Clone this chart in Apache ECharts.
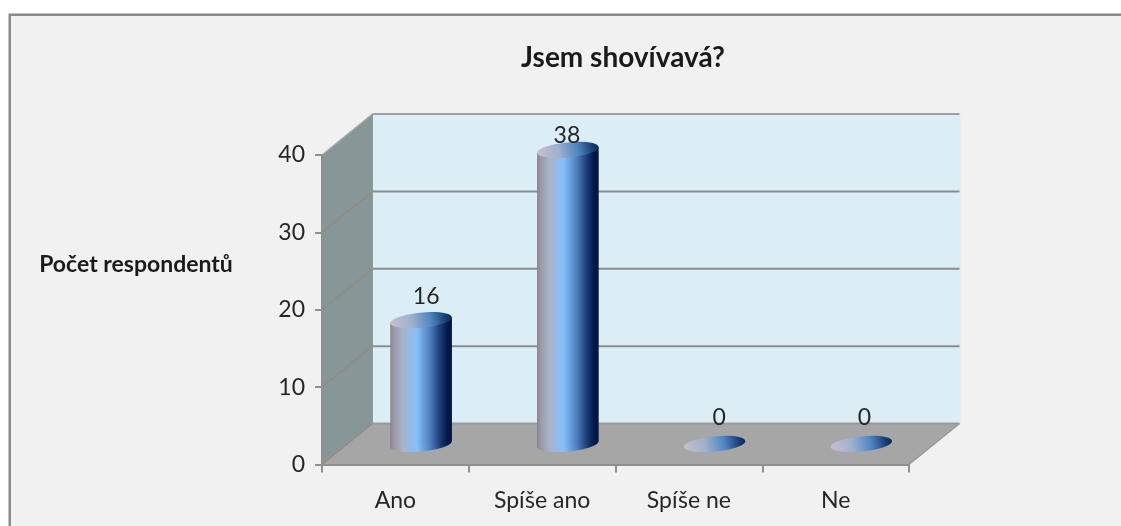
<!DOCTYPE html>
<html>
<head>
<meta charset="utf-8">
<style>html,body{margin:0;padding:0;background:#fff}#c{width:1121px;height:526px}</style>
<script src="https://cdn.jsdelivr.net/npm/echarts@6/dist/echarts.min.js"></script>
</head>
<body>
<div id="c"></div>
<script>
const categories = ['Ano', 'Spíše ano', 'Spíše ne', 'Ne'];
const values = [16, 38, 0, 0];
const yTicks = [0, 10, 20, 30, 40];
const titleText = 'Jsem shovívavá?';
const yAxisTitle = 'Počet respondentů';

const depthX = 50.5, depthY = 41;
const fontFamily = 'Lato, "Open Sans", sans-serif';
const textColor = '#262626';
const labelNudge = [[5, -24], [-1, -14], [4.5, -26], [3, -26]];

const chart = echarts.init(document.getElementById('c'), null, {renderer: 'canvas'});

const bodyGradient = new echarts.graphic.LinearGradient(0, 0, 1, 0, [
  {offset: 0, color: '#86808c'},
  {offset: 0.05, color: '#9a98a6'},
  {offset: 0.2, color: '#a9b3c8'},
  {offset: 0.43, color: '#86bffc'},
  {offset: 0.64, color: '#4f80c0'},
  {offset: 0.8, color: '#1d3f7a'},
  {offset: 0.93, color: '#001848'},
  {offset: 1, color: '#001848'}
]);
const capGradient = new echarts.graphic.LinearGradient(0, 0.7, 1, 0.3, [
  {offset: 0, color: '#c9bfcd'},
  {offset: 0.35, color: '#9fb0cc'},
  {offset: 0.65, color: '#4f86c2'},
  {offset: 0.9, color: '#153c74'},
  {offset: 1, color: '#0a2a5c'}
]);

function renderWalls(params, api) {
  const cs = params.coordSys;
  const l = cs.x, r = cs.x + cs.width, t = cs.y, b = cs.y + cs.height;
  const children = [
    {type: 'polygon', shape: {points: [[l, t], [l + depthX, t - depthY], [l + depthX, b - depthY], [l, b]]},
      style: {fill: '#879696'}},
    {type: 'rect', shape: {x: l + depthX, y: t - depthY, width: cs.width + 1, height: cs.height}, style: {fill: '#dceef5'}},
    {type: 'polygon', shape: {points: [[l, b], [l + depthX, b - depthY], [r + depthX, b - depthY], [r, b]]},
      style: {fill: '#a6a6a6'}}
  ];
  yTicks.forEach(function (v) {
    const y = api.coord([0, v])[1];
    const atTop = v === yTicks[yTicks.length - 1];
    children.push({type: 'line', shape: {x1: l, y1: y, x2: l + depthX, y2: y - depthY},
      style: {stroke: atTop ? '#a8a8a8' : '#938a84', lineWidth: 1.5}});
    children.push({type: 'line', shape: {x1: l + depthX, y1: y - depthY, x2: r + depthX, y2: y - depthY},
      style: {stroke: v === 0 ? '#999999' : (atTop ? '#a0a0a0' : '#8c8c8c'), lineWidth: 2}});
  });
  children.push({type: 'line', shape: {x1: l + depthX, y1: t - depthY, x2: l + depthX, y2: b - depthY},
    style: {stroke: '#8f9b9b', lineWidth: 1}});
  children.push({type: 'line', shape: {x1: r, y1: b, x2: r + depthX, y2: b - depthY},
    style: {stroke: '#999999', lineWidth: 1.5}});
  return {type: 'group', children: children};
}

function renderBar(params, api) {
  const idx = api.value(0), val = api.value(1);
  const top = api.coord([idx, val]);
  const base = api.coord([idx, 0]);
  const band = api.size([1, 0])[0];
  const cx = base[0] + depthX / 2 + 0.5;
  const baseY = base[1] - depthY / 2;
  const topY = top[1] - depthY / 2;
  const rx = band * 0.21, ry = 7.6, tilt = 3;
  const rot = Math.atan2(tilt, rx);
  const children = [];
  const ell = function (y, fill) {
    return {type: 'ellipse', shape: {cx: cx, cy: y, rx: rx, ry: ry},
      originX: cx, originY: y, rotation: rot, style: {fill: fill}};
  };
  if (val > 0) {
    children.push(ell(baseY, bodyGradient));
    children.push({type: 'polygon', shape: {points: [
      [cx - rx, topY + tilt], [cx + rx, topY - tilt], [cx + rx, baseY - tilt], [cx - rx, baseY + tilt]
    ]}, style: {fill: bodyGradient}});
  }
  children.push(ell(topY, capGradient));
  const n = labelNudge[idx];
  children.push({type: 'text', style: {
    text: String(val), x: cx + n[0], y: topY + n[1], align: 'center', verticalAlign: 'middle',
    font: '23px ' + fontFamily, fill: textColor
  }});
  return {type: 'group', children: children};
}

chart.setOption({
  animation: false,
  backgroundColor: '#ffffff',
  graphic: [{type: 'rect', z: -10, left: 8.5, top: 13.5, shape: {width: 1200, height: 600},
    style: {fill: '#f1f1f1', stroke: '#8a8a8a', lineWidth: 2.5}}],
  title: [
    {text: titleText, left: 618, top: 53, textAlign: 'center', textVerticalAlign: 'middle',
      textStyle: {fontFamily: fontFamily, fontSize: 28, fontWeight: 'bold', color: '#1a1a1a'}},
    {text: yAxisTitle, left: 131, top: 260, textAlign: 'center', textVerticalAlign: 'middle',
      textStyle: {fontFamily: fontFamily, fontSize: 23, fontWeight: 'bold', color: '#1a1a1a'}}
  ],
  grid: {left: 322, top: 155, width: 587, height: 309.5},
  xAxis: {
    type: 'category', data: categories, z: 5,
    axisLine: {lineStyle: {color: '#8f8f8f', width: 2}},
    axisTick: {show: true, alignWithLabel: false, length: 8, lineStyle: {color: '#8f8f8f', width: 2}},
    axisLabel: {margin: 25, fontFamily: fontFamily, fontSize: 23, color: textColor},
    splitLine: {show: false}
  },
  yAxis: {
    type: 'value', min: 0, max: 40, interval: 10, z: 5,
    axisLine: {show: true, lineStyle: {color: '#8f8f8f', width: 2}},
    axisTick: {show: true, length: 7, lineStyle: {color: '#8f8f8f', width: 2}},
    axisLabel: {margin: 17, padding: [4, 0, 0, 0], fontFamily: fontFamily, fontSize: 23, color: textColor},
    splitLine: {show: false}
  },
  series: [
    {type: 'custom', z: 1, silent: true, clip: false, data: [[0, 0]], encode: {x: 0, y: 1}, renderItem: renderWalls},
    {type: 'custom', z: 6, silent: true, clip: false, encode: {x: 0, y: 1},
      data: categories.map(function (c, i) { return [i, values[i]]; }), renderItem: renderBar}
  ]
});
</script>
</body>
</html>
